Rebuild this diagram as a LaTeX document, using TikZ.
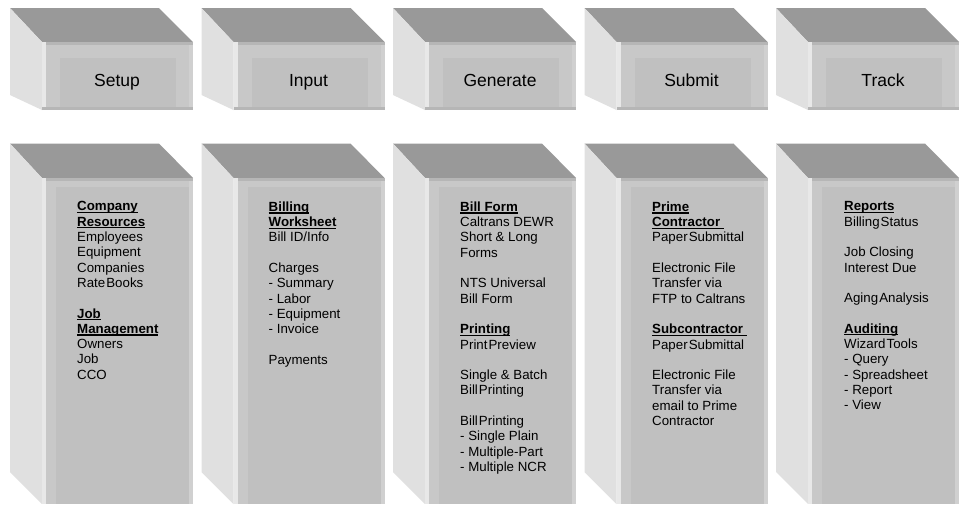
\documentclass[tikz,border=0pt]{standalone}
\usepackage{fontspec}
\setmainfont{Liberation Sans}
\definecolor{topc}{HTML}{999999}
\definecolor{sidec}{HTML}{E0E0E0}
\definecolor{sidehi}{HTML}{E8E8E8}
\definecolor{frontc}{HTML}{C8C8C8}
\definecolor{innerc}{HTML}{C0C0C0}
\definecolor{rimc}{HTML}{B6B6B6}
\definecolor{rimr}{HTML}{D0D0D0}
% #1 dx, #2 back y, #3 front top y, #4 front bottom y, #5 side vertical end y,
% #6 inner left inset, #7 inner top inset, #8 inner right inset, #9 inner bottom y
\newcommand\drawprism[9]{%
  \begin{scope}[xshift=#1pt]
    \fill[topc] (10,#2) -- (159,#2) -- (193,#3) -- (42,#3) -- cycle;
    \fill[sidec] (10,#2) -- (42,#3) -- (42,#4) -- (10,#5) -- cycle;
    \fill[frontc] (42,#3) rectangle (193,#4);
    \fill[innerc] ({42+#6},{#3+#7}) rectangle ({193-#8},#9);
    \fill[rimc] (42,#3) rectangle (193,{#3+3});
    \fill[sidehi] (42,#3) rectangle (46,#4);
    \fill[rimr] (189,{#3+3}) rectangle (193,#4);
  \end{scope}}
\tikzset{
  headlabel/.style={font=\fontsize{17.5}{20}\selectfont, text=black, inner sep=0pt, anchor=base},
  bodytext/.style={font=\fontsize{13.3}{15.3}\selectfont, text=black, inner sep=0pt, anchor=north west, align=left},
}
\newcommand\hd[1]{{\setbox0\hbox{\textbf{#1}}\rlap{\rule[-2.2pt]{\wd0}{1.3pt}}\box0}}
\newcommand\ts{\hspace{0.08em}}
\begin{document}
\begin{tikzpicture}[x=1pt,y=-1pt]
  \useasboundingbox (0,0) rectangle (964,504);
  \fill[white] (0,0) rectangle (964,504);
  \foreach \i in {0,...,4}{
    \pgfmathsetmacro{\dx}{191.5*\i}
    \drawprism{\dx}{8}{42}{110}{95}{18}{16}{17}{108}
    \fill[rimc] ({42+\dx},107) rectangle ({193+\dx},110);
    \drawprism{\dx}{143.5}{178}{504}{472}{14}{9}{4}{504}
  }
  \node[headlabel] (setup) at (117,86) {Setup};
  \node[headlabel] (input) at (308.5,86) {Input};
  \node[headlabel] (generate) at (500,86) {Generate};
  \node[headlabel] (submit) at (691.5,86) {Submit};
  \node[headlabel] (track) at (883,86) {Track};

  \node[bodytext] (col1) at (77,201.5) {\hd{Company}\\ \hd{Resources}\\ Employees\\ Equipment\\ Companies\\ Rate\ts Books\\[15.3pt] \hd{Job}\\ \hd{Management}\\ Owners\\ Job\\ CCO};
  \node[bodytext] (col2) at (268.5,201.5) {\hd{Billing}\\ \hd{Worksheet}\\ Bill ID/Info\\[15.3pt] Charges\\ - Summary\\ - Labor\\ - Equipment\\ - Invoice\\[15.3pt] Payments};
  \node[bodytext] (col3) at (460,201.5) {\hd{Bill Form}\\ Caltrans DEWR\\ Short \& Long\\ Forms\\[15.3pt] NTS Universal\\ Bill Form\\[15.3pt] \hd{Printing}\\ Print\ts Preview\\[15.3pt] Single \& Batch\\ Bill\ts Printing\\[15.3pt] Bill\ts Printing\\ - Single Plain\\ - Multiple-Part\\ - Multiple NCR};
  \node[bodytext] (col4) at (652,201.5) {\hd{Prime}\\ \hd{Contractor\ }\\ Paper\ts Submittal\\[15.3pt] Electronic File\\ Transfer via\\ FTP to Caltrans\\[15.3pt] \hd{Subcontractor\ }\\ Paper\ts Submittal\\[15.3pt] Electronic File\\ Transfer via\\ email to Prime\\ Contractor};
  \node[bodytext] (col5) at (844,201.5) {\hd{Reports}\\ Billing\ts Status\\[15.3pt] Job Closing\\ Interest Due\\[15.3pt] Aging\ts Analysis\\[15.3pt] \hd{Auditing}\\ Wizard\ts Tools\\ - Query\\ - Spreadsheet\\ - Report\\ - View};
\end{tikzpicture}
\end{document}
